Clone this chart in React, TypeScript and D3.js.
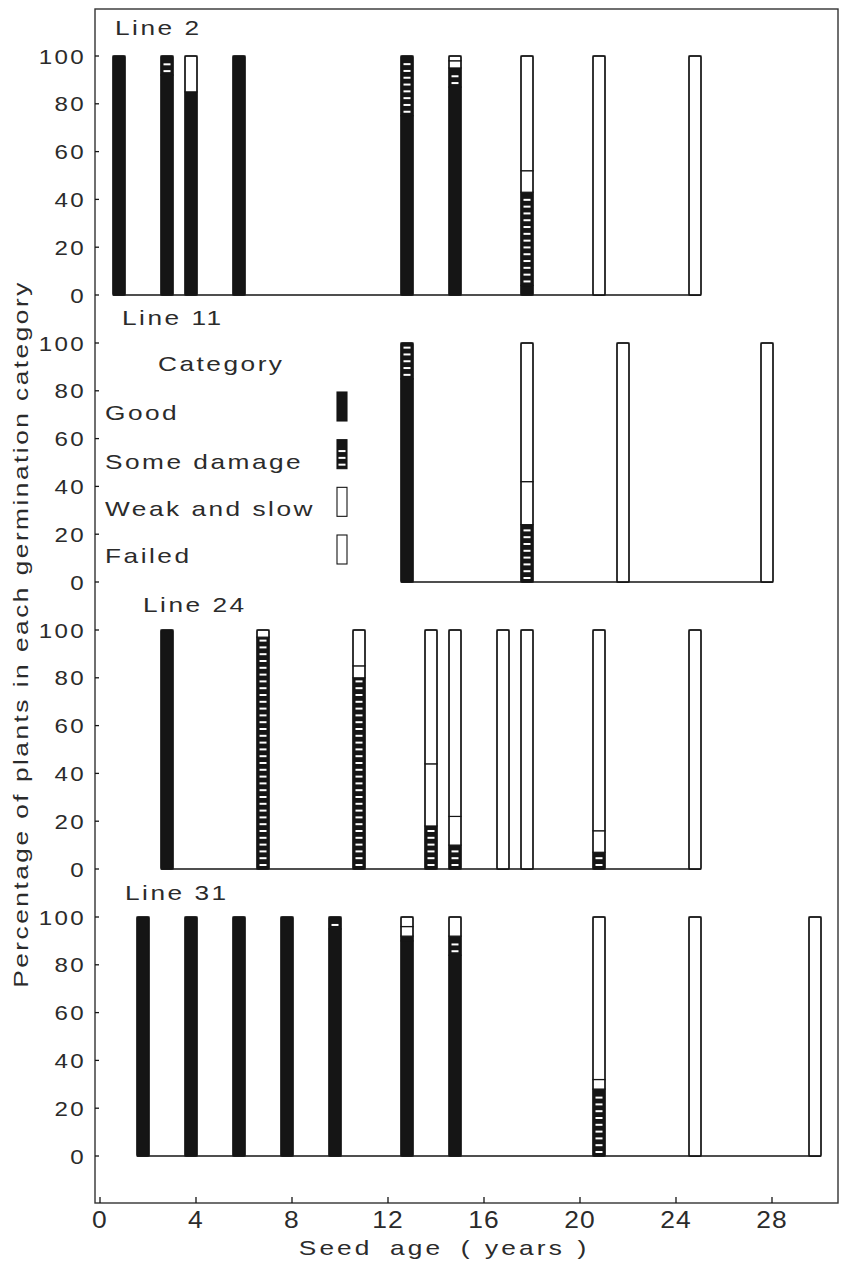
import React from "react";
import * as d3 from "d3";

// germination categories, stacked bottom to top
const categories = ["Good", "Some damage", "Weak and slow", "Failed"];
const lineNames = ["Line 2", "Line 11", "Line 24", "Line 31"];

// Line 2
const line2Ages = [1, 3, 4, 6, 13, 15, 18, 21, 25];
const line2Good = [100, 92, 85, 100, 75, 87, 4, 0, 0];
const line2Damage = [0, 8, 0, 0, 25, 8, 39, 0, 0];
const line2Weak = [0, 0, 15, 0, 0, 3, 9, 0, 0];
const line2Failed = [0, 0, 0, 0, 0, 2, 48, 100, 100];

// Line 11
const line11Ages = [13, 18, 22, 28];
const line11Good = [85, 0, 0, 0];
const line11Damage = [15, 24, 0, 0];
const line11Weak = [0, 18, 0, 0];
const line11Failed = [0, 58, 100, 100];

// Line 24
const line24Ages = [3, 7, 11, 14, 15, 17, 18, 21, 25];
const line24Good = [100, 0, 0, 0, 0, 0, 0, 0, 0];
const line24Damage = [0, 97, 80, 18, 10, 0, 0, 7, 0];
const line24Weak = [0, 3, 5, 26, 12, 0, 0, 9, 0];
const line24Failed = [0, 0, 15, 56, 78, 100, 100, 84, 100];

// Line 31
const line31Ages = [2, 4, 6, 8, 10, 13, 15, 21, 25, 30];
const line31Good = [100, 100, 100, 100, 95, 90, 84, 0, 0, 0];
const line31Damage = [0, 0, 0, 0, 5, 2, 8, 28, 0, 0];
const line31Weak = [0, 0, 0, 0, 0, 4, 8, 4, 0, 0];
const line31Failed = [0, 0, 0, 0, 0, 4, 0, 68, 100, 100];

const yTicks = [0, 20, 40, 60, 80, 100];
const xTicks = [0, 4, 8, 12, 16, 20, 24, 28];

const panels = [
  { name: lineNames[0], ages: line2Ages, values: [line2Good, line2Damage, line2Weak, line2Failed] },
  { name: lineNames[1], ages: line11Ages, values: [line11Good, line11Damage, line11Weak, line11Failed] },
  { name: lineNames[2], ages: line24Ages, values: [line24Good, line24Damage, line24Weak, line24Failed] },
  { name: lineNames[3], ages: line31Ages, values: [line31Good, line31Damage, line31Weak, line31Failed] },
];

// layout
const W = 847, H = 1265;
const frame = { left: 95, right: 838, top: 9, bottom: 1203 };
const panelTop0 = 56, panelStep = 287, panelH = 239;
const labelX = [115, 122, 143, 125];
const labelY = [35, 325, 612, 900];
const barW = 12;
const ink = "#151515";
const textInk = "#2b2b2b";
const font = "'Liberation Sans', Arial, Helvetica, sans-serif";

const x = d3.scaleLinear().domain([0, 30]).range([100, 820]);

const Txt = ({ x, y, children, size = 21, sx = 1.25, ls = 2, anchor = "start", rotate = 0 }: any) => (
  <text
    transform={`translate(${x},${y}) rotate(${rotate}) scale(${sx},1)`}
    fontSize={size}
    letterSpacing={ls}
    textAnchor={anchor}
    fill={textInk}
    fontFamily={font}
  >
    {children}
  </text>
);

// white dashes inside a "Some damage" block
const Dashes = ({ x0, yTop, yBot }: any) => {
  const ys = d3.range(yBot - 5, yTop + 1, -6.8);
  return (
    <g>
      {ys.map((yy, i) => (
        <rect key={i} x={x0 + 2.5} y={yy} width={barW - 5} height={2} fill="#fff" />
      ))}
    </g>
  );
};

const Panel = ({ p, i }: any) => {
  const top = panelTop0 + i * panelStep;
  const y = d3.scaleLinear().domain([0, 100]).range([top + panelH, top]);
  const rows = p.ages.map((age: number, j: number) => {
    const r: any = { age };
    categories.forEach((c, k) => (r[c] = p.values[k][j]));
    return r;
  });
  const stacked = d3.stack().keys(categories)(rows);
  const first = d3.min(p.ages as number[])!;
  const last = d3.max(p.ages as number[])!;

  return (
    <g>
      <Txt x={labelX[i]} y={labelY[i]}>{p.name}</Txt>
      {/* y axis ticks and labels */}
      {yTicks.map((t) => (
        <g key={t}>
          <line x1={frame.left} x2={frame.left + 4} y1={y(t)} y2={y(t)} stroke={ink} strokeWidth={1.3} />
          <Txt x={86} y={y(t) + 7.5} anchor="end" sx={1.15}>{t}</Txt>
        </g>
      ))}
      {/* baseline */}
      <line
        x1={x(first) - barW + 1}
        x2={x(last) + 1}
        y1={y(0)}
        y2={y(0)}
        stroke={ink}
        strokeWidth={1.4}
      />
      {rows.map((r: any, j: number) => {
        const x0 = x(r.age) - barW + 1;
        return (
          <g key={j}>
            {stacked.map((s, k) => {
              const d = s[j];
              if (d[1] <= d[0]) return null;
              const yTop = y(d[1]);
              const yBot = y(d[0]);
              const dark = k < 2;
              return (
                <g key={k}>
                  <rect
                    x={x0}
                    y={yTop}
                    width={barW}
                    height={yBot - yTop}
                    fill={dark ? ink : "#fff"}
                    stroke={ink}
                    strokeWidth={1.2}
                  />
                  {k === 1 && <Dashes x0={x0} yTop={yTop} yBot={yBot} />}
                </g>
              );
            })}
            <rect
              x={x0}
              y={y(100)}
              width={barW}
              height={y(0) - y(100)}
              fill="none"
              stroke={ink}
              strokeWidth={1.3}
              rx={1.5}
            />
          </g>
        );
      })}
    </g>
  );
};

const Legend = () => {
  const rowY = d3.scaleLinear().domain([0, 3]).range([392, 535]);
  const textY = [420, 469, 516, 563];
  return (
    <g>
      <Txt x={158} y={371}>Category</Txt>
      {categories.map((c, k) => (
        <g key={c}>
          <Txt x={105} y={textY[k]}>{c}</Txt>
          <rect
            x={337}
            y={rowY(k)}
            width={10}
            height={29}
            fill={k < 2 ? ink : "#fff"}
            stroke={ink}
            strokeWidth={1.1}
          />
          {k === 1 && <Dashes x0={336} yTop={rowY(k) + 4} yBot={rowY(k) + 29} />}
        </g>
      ))}
    </g>
  );
};

export default function App() {
  return (
    <svg
      width={W}
      height={H}
      viewBox={`0 0 ${W} ${H}`}
      style={{ position: "absolute", left: 0, top: 0, background: "#fff", display: "block" }}
    >
      <rect width={W} height={H} fill="#fff" />
      <rect
        x={frame.left}
        y={frame.top}
        width={frame.right - frame.left}
        height={frame.bottom - frame.top}
        fill="none"
        stroke="#333"
        strokeWidth={1.4}
      />
      {panels.map((p, i) => (
        <Panel key={p.name} p={p} i={i} />
      ))}
      <Legend />
      {/* x axis */}
      {xTicks.map((t) => (
        <g key={t}>
          <line x1={x(t)} x2={x(t)} y1={frame.bottom} y2={frame.bottom - 6} stroke={ink} strokeWidth={1.3} />
          <Txt x={x(t)} y={1228} anchor="middle" size={24} sx={1.1} ls={1}>{t}</Txt>
        </g>
      ))}
      <Txt x={444} y={1255} anchor="middle" ls={2.5}>
        <tspan>Seed</tspan>
        <tspan dx={14}>age</tspan>
        <tspan dx={14}>(</tspan>
        <tspan dx={10}>years</tspan>
        <tspan dx={10}>)</tspan>
      </Txt>
      <Txt x={28} y={634} anchor="middle" rotate={-90}>
        Percentage of plants in each germination category
      </Txt>
    </svg>
  );
}
